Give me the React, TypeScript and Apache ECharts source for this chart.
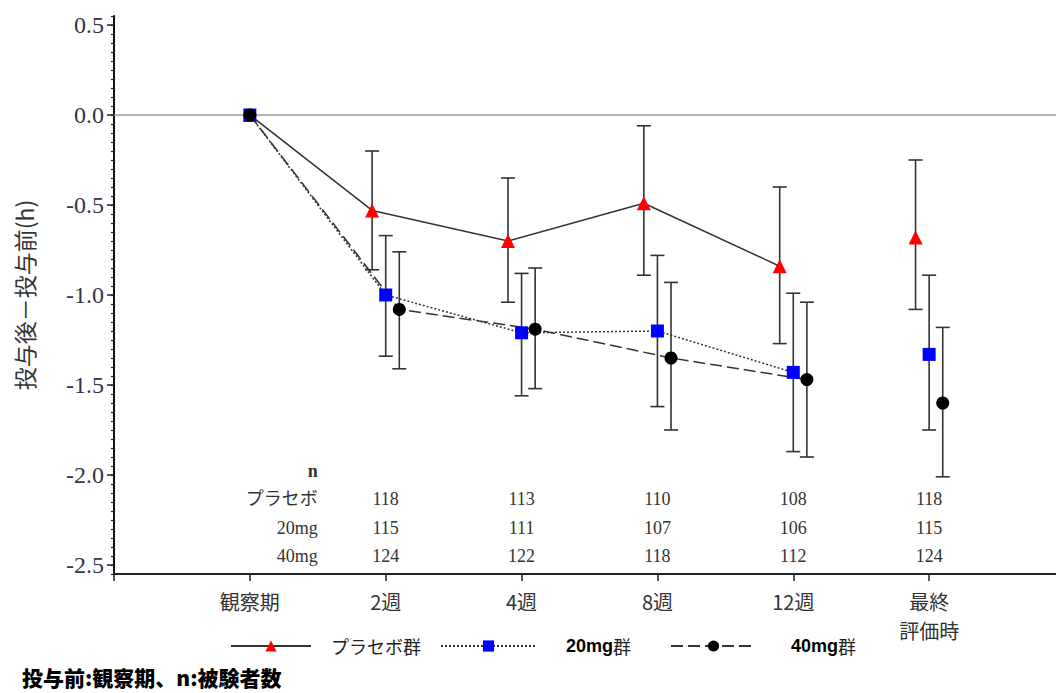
import React, { useEffect, useRef } from 'react';
import * as echarts from 'echarts';

// ---------- data ----------
const categories = ['観察期', '2週', '4週', '8週', '12週', '最終\n評価時'];
const seriesNames = ['プラセボ群', '20mg群', '40mg群'];

const placeboMean = [0, -0.53, -0.70, -0.49, -0.84, -0.68];
const placeboUpper = [null, -0.20, -0.35, -0.06, -0.40, -0.25];
const placeboLower = [null, -0.86, -1.04, -0.89, -1.27, -1.08];

const mg20Mean = [0, -1.00, -1.21, -1.20, -1.43, -1.33];
const mg20Upper = [null, -0.67, -0.88, -0.78, -0.99, -0.89];
const mg20Lower = [null, -1.34, -1.56, -1.62, -1.87, -1.75];

const mg40Mean = [0, -1.08, -1.19, -1.35, -1.47, -1.60];
const mg40Upper = [null, -0.76, -0.85, -0.93, -1.04, -1.18];
const mg40Lower = [null, -1.41, -1.52, -1.75, -1.90, -2.01];

const nHeader = 'n';
const nRowLabels = ['プラセボ', '20mg', '40mg'];
const nPlacebo = [118, 113, 110, 108, 118];
const n20mg = [115, 111, 107, 106, 115];
const n40mg = [124, 122, 118, 112, 124];

const footnote = '投与前:観察期、n:被験者数';
const yAxisName = '投与後－投与前(h)';

// ---------- layout / style ----------
const OFFSETS = [-0.1, 0, 0.1];
const LINE_COUNT = 5; // points connected by lines (観察期..12週)
const TABLE_HEADER_Y = -1.978;
const TABLE_ROW_Y = [-2.133, -2.294, -2.45];
const TABLE_LABEL_X = 0.5;
const SERIF = "'Liberation Serif', 'Noto Sans CJK JP', serif";
const CJK = "'Noto Sans CJK JP', sans-serif";

const xPos = (i: number, off: number) => (i === 0 ? 0 : i + off);

const groups = [
  { name: seriesNames[0], mean: placeboMean, up: placeboUpper, lo: placeboLower, symbol: 'triangle', size: 14, color: '#ff0000', lineType: 'solid' as any },
  { name: seriesNames[1], mean: mg20Mean, up: mg20Upper, lo: mg20Lower, symbol: 'rect', size: 13, color: '#0000ff', lineType: [2, 2] as any },
  { name: seriesNames[2], mean: mg40Mean, up: mg40Upper, lo: mg40Lower, symbol: 'circle', size: 13, color: '#000000', lineType: [12, 5] as any },
];

type Cell = { x: number; y: number; text: string; align: string; bold?: boolean };
const cells: Cell[] = [];
cells.push({ x: TABLE_LABEL_X, y: TABLE_HEADER_Y, text: nHeader, align: 'right', bold: true });
[nPlacebo, n20mg, n40mg].forEach((row, r) => {
  cells.push({ x: TABLE_LABEL_X, y: TABLE_ROW_Y[r], text: nRowLabels[r], align: 'right' });
  row.forEach((v, i) => cells.push({ x: i + 1, y: TABLE_ROW_Y[r], text: String(v), align: 'center' }));
});

export default function App() {
  const ref = useRef<HTMLDivElement>(null);
  useEffect(() => {
    if (!ref.current) return;
    const chart = echarts.init(ref.current, undefined, { renderer: 'svg' });
    const series: any[] = [];

    groups.forEach((g, gi) => {
      const off = OFFSETS[gi];
      const ebData = g.mean
        .map((_, i) => (g.up[i] == null ? null : [xPos(i, off), g.lo[i], g.up[i]]))
        .filter((d) => d) as number[][];
      series.push({
        type: 'custom',
        xAxisIndex: 0,
        yAxisIndex: 0,
        z: 2,
        silent: true,
        data: ebData,
        encode: { x: 0, y: [1, 2] },
        renderItem: (params: any, api: any) => {
          const x = api.value(0);
          const pLo = api.coord([x, api.value(1)]);
          const pHi = api.coord([x, api.value(2)]);
          const w = 7;
          const st = { stroke: '#333', lineWidth: 1.6 };
          return {
            type: 'group',
            children: [
              { type: 'line', shape: { x1: pLo[0], y1: pLo[1], x2: pHi[0], y2: pHi[1] }, style: st },
              { type: 'line', shape: { x1: pLo[0] - w, y1: pLo[1], x2: pLo[0] + w, y2: pLo[1] }, style: st },
              { type: 'line', shape: { x1: pHi[0] - w, y1: pHi[1], x2: pHi[0] + w, y2: pHi[1] }, style: st },
            ],
          };
        },
      });
      series.push({
        type: 'line',
        name: g.name,
        xAxisIndex: 0,
        yAxisIndex: 0,
        z: 3,
        data: g.mean.slice(0, LINE_COUNT).map((v, i) => [xPos(i, off), v]),
        symbol: g.symbol,
        symbolSize: g.size,
        showAllSymbol: true,
        itemStyle: { color: g.color, opacity: 1 },
        lineStyle: { color: '#333', width: 1.5, type: g.lineType },
        markLine:
          gi === 0
            ? {
                silent: true,
                symbol: ['none', 'none'],
                label: { show: false },
                lineStyle: { color: '#9a9a9a', width: 1.5, type: 'solid' },
                data: [{ yAxis: 0 }],
                z: 1,
              }
            : undefined,
      });
      series.push({
        type: 'scatter',
        xAxisIndex: 0,
        yAxisIndex: 0,
        z: 3,
        data: [[xPos(5, off), g.mean[5]]],
        symbol: g.symbol,
        symbolSize: g.size,
        itemStyle: { color: g.color, opacity: 1 },
      });
    });

    series.push({
      type: 'custom',
      xAxisIndex: 0,
      yAxisIndex: 0,
      silent: true,
      z: 4,
      data: cells.map((c) => [c.x, c.y]),
      renderItem: (params: any, api: any) => {
        const c = cells[params.dataIndex];
        const p = api.coord([c.x, c.y]);
        return {
          type: 'text',
          x: p[0],
          y: p[1],
          style: {
            text: c.text,
            align: c.align,
            verticalAlign: 'middle',
            fontFamily: SERIF,
            fontSize: 18,
            fontWeight: c.bold ? 'bold' : 'normal',
            fill: '#333',
          },
        };
      },
    });

    const legendBase = (name: string, left: number, width: number, pad: number) => ({
      data: [{ name }],
      left,
      top: 632,
      itemWidth: width,
      itemHeight: 14,
      selectedMode: false,
      formatter: (n: string) =>
        n === seriesNames[0] ? `{n|${n}}` : `{b|${n.replace('群', '')}}{n|群}`,
      textStyle: {
        padding: [0, 0, 0, pad],
        rich: {
          n: { fontFamily: CJK, fontSize: 18, color: '#222', fontWeight: 'normal' },
          b: { fontFamily: "'Liberation Sans', sans-serif", fontSize: 18, color: '#000', fontWeight: 'bold' },
        },
      },
    });

    chart.setOption({
      animation: false,
      backgroundColor: '#fff',
      grid: [
        { left: 114, width: 951, top: 16, bottom: 119, outerBoundsMode: 'none' },
        { left: 114, width: 951, top: 25, bottom: 128, outerBoundsMode: 'none' },
      ],
      xAxis: [
        {
          type: 'value',
          gridIndex: 0,
          min: -1,
          max: 6,
          interval: 1,
          splitLine: { show: false },
          axisLine: { show: true, onZero: false, lineStyle: { color: '#222', width: 2 } },
          axisTick: { show: true, inside: false, length: 7, lineStyle: { color: '#222', width: 1.5 } },
          axisLabel: {
            margin: 13,
            fontFamily: CJK,
            fontSize: 20,
            lineHeight: 29,
            color: '#333',
            formatter: (v: number) => {
              const i = Math.round(v);
              return i >= 0 && i < categories.length && Math.abs(v - i) < 1e-6 ? categories[i] : '';
            },
          },
        },
        { type: 'value', gridIndex: 1, min: -1, max: 6, show: false },
      ],
      yAxis: [
        {
          type: 'value',
          gridIndex: 0,
          min: -2.55,
          max: 0.55,
          interval: 0.05,
          splitLine: { show: false },
          axisLine: { show: true, onZero: false, lineStyle: { color: '#111', width: 2 } },
          axisTick: { show: true, length: 3, lineStyle: { color: '#222', width: 1.2 } },
          axisLabel: { show: false },
        },
        {
          type: 'value',
          gridIndex: 1,
          min: -2.5,
          max: 0.5,
          interval: 0.5,
          splitLine: { show: false },
          axisLine: { show: false, onZero: false },
          axisTick: { show: true, length: 7, lineStyle: { color: '#222', width: 1.5 } },
          axisLabel: {
            margin: 10,
            fontFamily: SERIF,
            fontSize: 24,
            color: '#33334a',
            formatter: (v: number) => v.toFixed(1),
          },
          name: yAxisName,
          nameLocation: 'middle',
          nameRotate: 90,
          nameGap: 79,
          nameTextStyle: { fontFamily: CJK, fontSize: 23, color: '#333' },
        },
      ],
      legend: [
        legendBase(seriesNames[0], 225, 80, 15),
        legendBase(seriesNames[1], 435, 95, 25),
        legendBase(seriesNames[2], 665, 85, 30),
      ],
      graphic: [
        {
          type: 'text',
          x: 22,
          y: 677,
          style: {
            text: footnote,
            fontFamily: CJK,
            fontSize: 21,
            fontWeight: 900,
            fill: '#000',
            verticalAlign: 'middle',
          },
        },
      ],
      series,
    });
    return () => chart.dispose();
  }, []);
  return (
    <div
      ref={ref}
      style={{ position: 'fixed', left: 0, top: 0, width: 1056, height: 693, background: '#fff' }}
    />
  );
}
